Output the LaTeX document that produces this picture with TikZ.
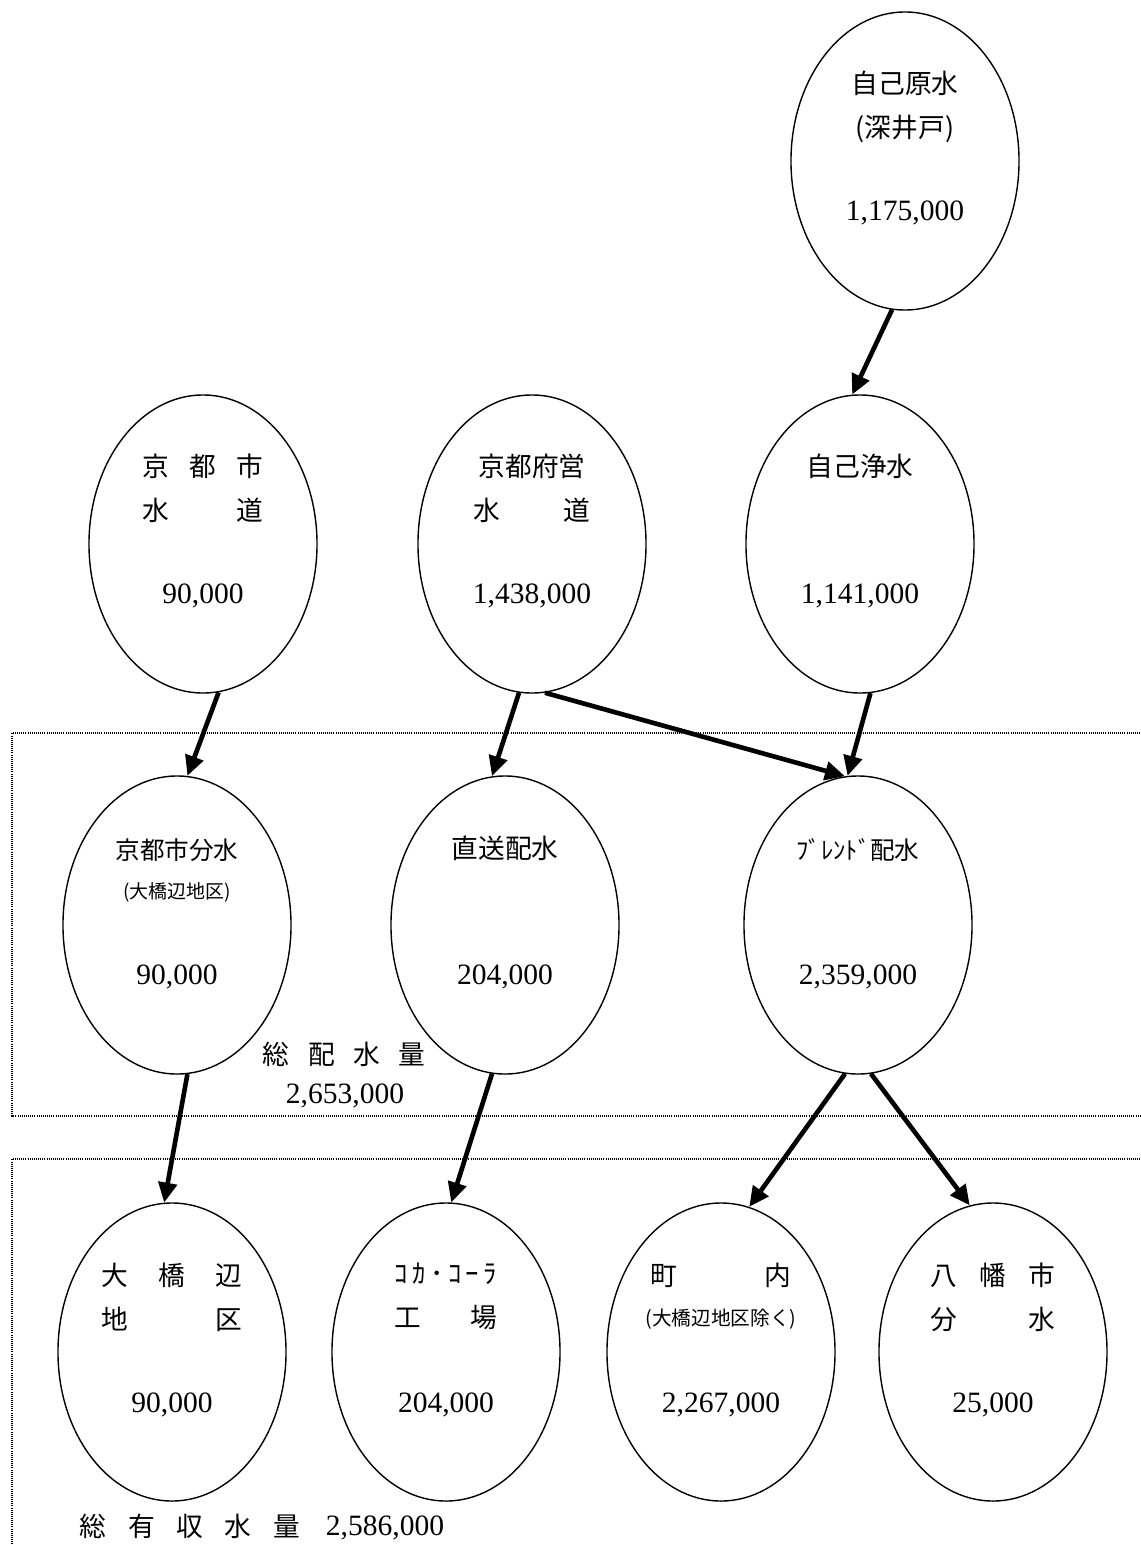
\documentclass[tikz,border=0pt]{standalone}
\usepackage{fontspec}
\setmainfont{Liberation Serif}
\newfontfamily\jp{Noto Sans CJK JP}
\usetikzlibrary{shapes.geometric, arrows.meta}
\newcommand{\spr}[2]{\makebox[#1][s]{#2}}
\newcommand{\sm}{\fontsize{13.5}{14}\selectfont}

\begin{document}
\begin{tikzpicture}[x=0.025cm, y=-0.025cm,
		tank/.style={ellipse, draw, line width=1pt, minimum width=5.7cm, minimum height=7.45cm, inner sep=0pt},
		ttl/.style={anchor=north, align=center, inner sep=0pt, font=\jp\fontsize{19}{31}\selectfont},
		num/.style={inner sep=0pt, font=\fontsize{21}{21}\selectfont},
		flow/.style={line width=3.3pt, -{Triangle[length=0.5cm, width=0.46cm]}},
		zone/.style={line width=0.8pt, dash pattern=on 0.6pt off 0.9pt}
		]
		\useasboundingbox (0,0) rectangle (1140,1545);
		
		% zones
		\draw[zone] (1140,733) -- (12,733) -- (12,1116) -- (1140,1116);
		\draw[zone] (1140,1159) -- (12,1159) -- (12,1545);
		
		% sources
		\node[tank] (src) at (905,161) {};
		\node[ttl] (src-t) at (905,71) {自己原水\\(深井戸)};
		\node[num] (src-n) at (905,213) {1,175,000};
		
		\node[tank] (kyo) at (203,544) {};
		\node[ttl] (kyo-t) at (203,454) {\spr{3cm}{京\hfill 都\hfill 市}\\\spr{3cm}{水\hfill 道}};
		\node[num] (kyo-n) at (203,596) {90,000};
		
		\node[tank] (fu) at (532,544) {};
		\node[ttl] (fu-t) at (532,454) {京都府営\\\spr{2.9cm}{水\hfill 道}};
		\node[num] (fu-n) at (532,596) {1,438,000};
		
		\node[tank] (own) at (860,544) {};
		\node[ttl] (own-t) at (860,454) {自己浄水};
		\node[num] (own-n) at (860,596) {1,141,000};
		
		% distribution
		\node[tank] (bunsui) at (177,925) {};
		\node[ttl] (bunsui-t) at (177,838) {{\fontsize{17.5}{17.5}\selectfont 京都市分水}\\[-3pt]{\sm (大橋辺地区)}};
		\node[num] (bunsui-n) at (177,977) {90,000};
		
		\node[tank] (choku) at (505,925) {};
		\node[ttl] (choku-t) at (505,836) {直送配水};
		\node[num] (choku-n) at (505,977) {204,000};
		
		\node[tank] (blend) at (858,925) {};
		\node[ttl] (blend-t) at (858,838) {{\fontsize{17.5}{17.5}\selectfont ﾌﾞﾚﾝﾄﾞ配水}};
		\node[num] (blend-n) at (858,977) {2,359,000};
		
		\node[ttl] (hai-t) at (344,1042) {\spr{4.05cm}{総\hfill 配\hfill 水\hfill 量}};
		\node[num] (hai-n) at (345,1096) {2,653,000};
		
		% consumers
		\node[tank] (ohashi) at (172,1352) {};
		\node[ttl] (ohashi-t) at (172,1263) {\spr{3.5cm}{大\hfill 橋\hfill 辺}\\\spr{3.5cm}{地\hfill 区}};
		\node[num] (ohashi-n) at (172,1405) {90,000};
		
		\node[tank] (coca) at (446,1352) {};
		\node[ttl] (coca-t) at (446,1263) {\spr{2.55cm}{ｺ\hfill ｶ\hfill ･\hfill ｺ\hfill ｰ\hfill ﾗ}\\\spr{2.55cm}{工\hfill 場}};
		\node[num] (coca-n) at (446,1405) {204,000};
		
		\node[tank] (town) at (721,1352) {};
		\node[ttl] (town-t) at (721,1263) {\spr{3.5cm}{町\hfill 内}\\[-3pt]{\fontsize{14}{14}\selectfont (大橋辺地区除く)}};
		\node[num] (town-n) at (721,1405) {2,267,000};
		
		\node[tank] (yawata) at (993,1352) {};
		\node[ttl] (yawata-t) at (993,1263) {\spr{3.1cm}{八\hfill 幡\hfill 市}\\\spr{3.1cm}{分\hfill 水}};
		\node[num] (yawata-n) at (993,1405) {25,000};
		
		\node[ttl] (yusui-t) at (190,1514) {\spr{5.5cm}{総\hfill 有\hfill 収\hfill 水\hfill 量}};
		\node[num] (yusui-n) at (385,1528) {2,586,000};
		
		% flows
		\draw[flow] (src.-95) to (own.93);
		\draw[flow] (kyo.-84) to (bunsui.86);
		\draw[flow] (fu.-95) to (choku.95);
		\draw[flow] (fu.-85) to (blend.95);
		\draw[flow] (own.-86) to (blend.94);
		\draw[flow] (bunsui.-86) to (ohashi.93);
		\draw[flow] (choku.-95) to (coca.88);
		\draw[flow] (blend.-95) to (town.79);
		\draw[flow] (blend.-85) to (yawata.99);
\end{tikzpicture}
\end{document}
